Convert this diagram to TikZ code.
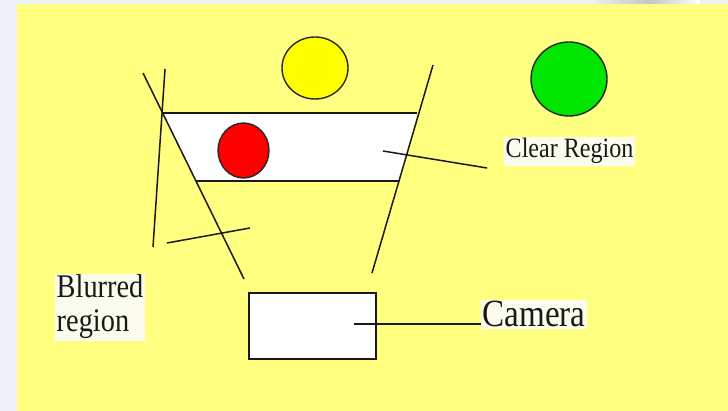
\documentclass[tikz,border=0pt]{standalone}
\usepackage{fontspec}
\newfontfamily\lblfont[FakeStretch=0.86]{Liberation Serif}
\definecolor{paper}{RGB}{255,255,128}
\definecolor{sidebg}{RGB}{238,240,247}
\definecolor{tagbg}{RGB}{252,252,238}
\definecolor{sunyellow}{RGB}{255,255,0}
\definecolor{ballgreen}{RGB}{0,230,0}
\definecolor{ballred}{RGB}{255,0,0}
\begin{document}
\begin{tikzpicture}[x=1pt,y=-1pt,
  ink/.style={draw=black!90,line width=1.5pt},
  ball/.style={draw=black!85,line width=1.4pt},
  tag/.style={inner sep=1.5pt,fill=tagbg,text=black!90}]
% page and slide background
\useasboundingbox (0,0) rectangle (728,411);
\fill[sidebg] (0,0) rectangle (728,411);
\shade[left color=sidebg,right color=gray!45] (590,0) rectangle (650,4);
\shade[left color=gray!45,right color=white] (650,0) rectangle (700,4);
\fill[paper] (17,4) rectangle (728,411);

% balls
\fill[sunyellow,ball] (315,68) ellipse [x radius=33,y radius=31];
\fill[ballgreen,ball] (569,79) ellipse [x radius=38,y radius=37];

% clear (in-focus) band
\fill[white] (162,113) -- (417,113) -- (399,181) -- (196,181) -- cycle;
\fill[ballred,ball] (243.5,150.5) ellipse [x radius=25.5,y radius=27.5];
\draw[ink] (162,113) -- (417,113);
\draw[ink] (196,181) -- (399,181);

% field-of-view and depth lines
\coordinate (ldA) at (143,73);  \coordinate (ldB) at (244,279);
\coordinate (lvA) at (165,69);  \coordinate (lvB) at (153,247);
\coordinate (rA)  at (433,65);  \coordinate (rB)  at (372,273);
\draw[ink] (ldA) -- (ldB);
\draw[ink] (lvA) -- (lvB);
\draw[ink] (rA) -- (rB);

% camera
\node[draw=black!90,line width=1.5pt,fill=white,minimum width=127pt,minimum height=66pt,inner sep=0pt] (cam) at (312.5,326) {};

% labels (multi-line node: base anchor sits on the last line)
\node[tag,anchor=base west,align=left,font=\lblfont\fontsize{33}{34}\selectfont] (blur) at (55,332) {Blurred\\region};
\node[tag,anchor=base west,font=\lblfont\fontsize{28}{30}\selectfont] (clear) at (504,158) {Clear Region};
\node[tag,anchor=base west,font=\lblfont\fontsize{38.5}{40}\selectfont] (camlbl) at (481,327) {Camera};

% pointers
\coordinate (bp1) at (167,243); \coordinate (bp2) at (250,228);
\draw[ink] (bp1) -- (bp2);
\coordinate (cp1) at (383,151); \coordinate (cp2) at (487,168);
\draw[ink] (cp1) -- (cp2);
\coordinate (kp1) at (354,324);
\draw[ink] (kp1) -- (kp1 -| camlbl.west);
\end{tikzpicture}
\end{document}
